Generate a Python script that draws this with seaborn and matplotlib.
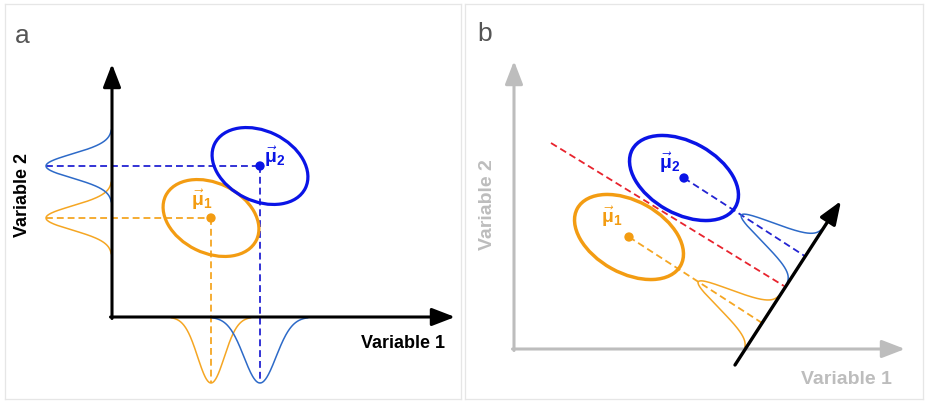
import numpy as np
import matplotlib
matplotlib.use("Agg")
import matplotlib.pyplot as plt
from matplotlib.patches import Ellipse
import seaborn as sns

sns.set_theme(style="white")
plt.rcParams["font.family"] = ["Liberation Sans", "DejaVu Sans"]
plt.rcParams["mathtext.fontset"] = "custom"
plt.rcParams["mathtext.rm"] = "Liberation Sans:bold"
plt.rcParams["mathtext.it"] = "Liberation Sans:bold"
plt.rcParams["mathtext.bf"] = "Liberation Sans:bold"

# ---- data -------------------------------------------------------------
classes = ["1", "2"]
ell_colors = ["#f39c12", "#0a14e6"]      # class ellipses / means
curve_colors = ["#f5a623", "#2d6ac8"]    # projected densities
dash_colors = ["#f5a623", "#2323d2"]

# panel a: original feature space (axis units)
a_mean_x = [99, 148]
a_mean_y = [99, 151]
a_ell_axes = [101, 70]       # full major / minor axis
a_ell_angle = -26
a_sd_var1 = [13.3, 16.0]     # spread of the marginal along Variable 1
a_sd_var2 = [12.0, 12.0]     # spread of the marginal along Variable 2
a_peak = [66, 66]
a_axis_end = [343, 253]      # x-arrow tip, y-arrow tip
a_label_offset = [(-9, 19), (15, 10)]

# panel b: LDA projection
b_mean_x = [115, 170]
b_mean_y = [112, 171]
b_ell_axes = [118, 72]
b_ell_angle = -29
b_proj_start = [221, -16]
b_proj_end = [327, 148]
b_boundary_start = [37, 206]
b_boundary_end = [270, 63]
b_sd_proj = [10.5, 10.5]
b_peak = [76, 76]
b_axis_end = [391, 288]
b_label_offset = [(-17, 21), (-14, 16)]

fig = plt.figure(figsize=(9.25, 4.02), dpi=100)
ax_a = fig.add_axes([5 / 925, 2 / 402, 456 / 925, 395 / 402])
ax_b = fig.add_axes([465 / 925, 2 / 402, 458 / 925, 395 / 402])
ax_a.set_xlim(-107, 349)
ax_a.set_ylim(-82, 313)
ax_b.set_xlim(-49, 409)
ax_b.set_ylim(-50, 345)
for ax in (ax_a, ax_b):
    ax.set_xticks([])
    ax.set_yticks([])
    for s in ax.spines.values():
        s.set_color("#e6e6e6")
        s.set_linewidth(0.9)

dash = (0, (3.8, 2.2))


def arrow(ax, start, end, color, lw=2.2):
    ax.annotate("", xy=end, xytext=start, zorder=6,
                arrowprops=dict(arrowstyle="-|>,head_length=0.7,head_width=0.27",
                                mutation_scale=20, lw=lw, color=color,
                                shrinkA=0, shrinkB=0))


# ---- panel a ----------------------------------------------------------
for i, c in enumerate(classes):
    mx, my = a_mean_x[i], a_mean_y[i]
    ax_a.add_patch(Ellipse((mx, my), a_ell_axes[0], a_ell_axes[1], angle=a_ell_angle,
                           fill=False, ec=ell_colors[i], lw=2.3, zorder=4))
    # projection guides
    ax_a.plot([-a_peak[i], mx], [my, my], color=dash_colors[i], lw=1.3, ls=dash, zorder=2)
    ax_a.plot([mx, mx], [my, -a_peak[i]], color=dash_colors[i], lw=1.3, ls=dash, zorder=2)
    # marginal along Variable 2 (left)
    t = np.linspace(-3, 3, 200) * a_sd_var2[i]
    g = a_peak[i] * np.exp(-t ** 2 / (2 * a_sd_var2[i] ** 2))
    sns.lineplot(x=-g, y=my + t, sort=False, estimator=None, ax=ax_a,
                 color=curve_colors[i], lw=1.1, zorder=3)
    # marginal along Variable 1 (bottom)
    t = np.linspace(-3, 3, 200) * a_sd_var1[i]
    g = a_peak[i] * np.exp(-t ** 2 / (2 * a_sd_var1[i] ** 2))
    sns.lineplot(x=mx + t, y=-g, sort=False, estimator=None, ax=ax_a,
                 color=curve_colors[i], lw=1.1, zorder=3)
    dx, dy = a_label_offset[i]
    ax_a.text(mx + dx, my + dy, r"$\vec{\mu}_%s$" % c, color=ell_colors[i],
              fontsize=14, ha="center", va="center")

sns.scatterplot(x=a_mean_x, y=a_mean_y, hue=classes, palette=ell_colors, s=45,
                edgecolor="none", legend=False, ax=ax_a, zorder=5)

arrow(ax_a, (-1.5, 0), (a_axis_end[0], 0), "black")
arrow(ax_a, (0, -1.5), (0, a_axis_end[1]), "black")
ax_a.text(333, -26, "Variable 1", fontsize=13, fontweight="bold", ha="right",
          va="center", color="black")
ax_a.text(-89, 123, "Variable 2", fontsize=13, fontweight="bold", rotation=90,
          ha="center", va="center", color="black")
ax_a.text(-97, 282, "a", fontsize=19, color="#555555", ha="left", va="center")

# ---- panel b ----------------------------------------------------------
p0 = np.array(b_proj_start, float)
u = np.array(b_proj_end, float) - p0
u /= np.linalg.norm(u)
n = np.array([-u[1], u[0]])  # toward upper-left

ax_b.plot([b_boundary_start[0], b_boundary_end[0]],
          [b_boundary_start[1], b_boundary_end[1]],
          color="#e8232d", lw=1.3, ls=dash, zorder=2)

for i, c in enumerate(classes):
    m = np.array([b_mean_x[i], b_mean_y[i]], float)
    foot = p0 + np.dot(m - p0, u) * u
    ax_b.add_patch(Ellipse(m, b_ell_axes[0], b_ell_axes[1], angle=b_ell_angle,
                           fill=False, ec=ell_colors[i], lw=2.5, zorder=4))
    ax_b.plot([m[0], foot[0]], [m[1], foot[1]], color=dash_colors[i], lw=1.3,
              ls=dash, zorder=2)
    t = np.linspace(-3, 3, 200) * b_sd_proj[i]
    g = b_peak[i] * np.exp(-t ** 2 / (2 * b_sd_proj[i] ** 2))
    pts = foot[None, :] + t[:, None] * u[None, :] + g[:, None] * n[None, :]
    sns.lineplot(x=pts[:, 0], y=pts[:, 1], sort=False, estimator=None, ax=ax_b,
                 color=curve_colors[i], lw=1.1, zorder=3)
    dx, dy = b_label_offset[i]
    ax_b.text(m[0] + dx, m[1] + dy, r"$\vec{\mu}_%s$" % c, color=ell_colors[i],
              fontsize=14, ha="center", va="center")

sns.scatterplot(x=b_mean_x, y=b_mean_y, hue=classes, palette=ell_colors, s=45,
                edgecolor="none", legend=False, ax=ax_b, zorder=5)

gray = "#bdbdbd"
arrow(ax_b, (-1.5, 0), (b_axis_end[0], 0), gray)
arrow(ax_b, (0, -1.5), (0, b_axis_end[1]), gray)
arrow(ax_b, b_proj_start, b_proj_end, "black", lw=2.4)
ax_b.text(378, -30, "Variable 1", fontsize=14, fontweight="bold", ha="right",
          va="center", color=gray)
ax_b.text(-26, 145, "Variable 2", fontsize=14, fontweight="bold", rotation=90,
          ha="center", va="center", color=gray)
ax_b.text(-37, 316, "b", fontsize=19, color="#555555", ha="left", va="center")

fig.savefig("out.png", dpi=100)
